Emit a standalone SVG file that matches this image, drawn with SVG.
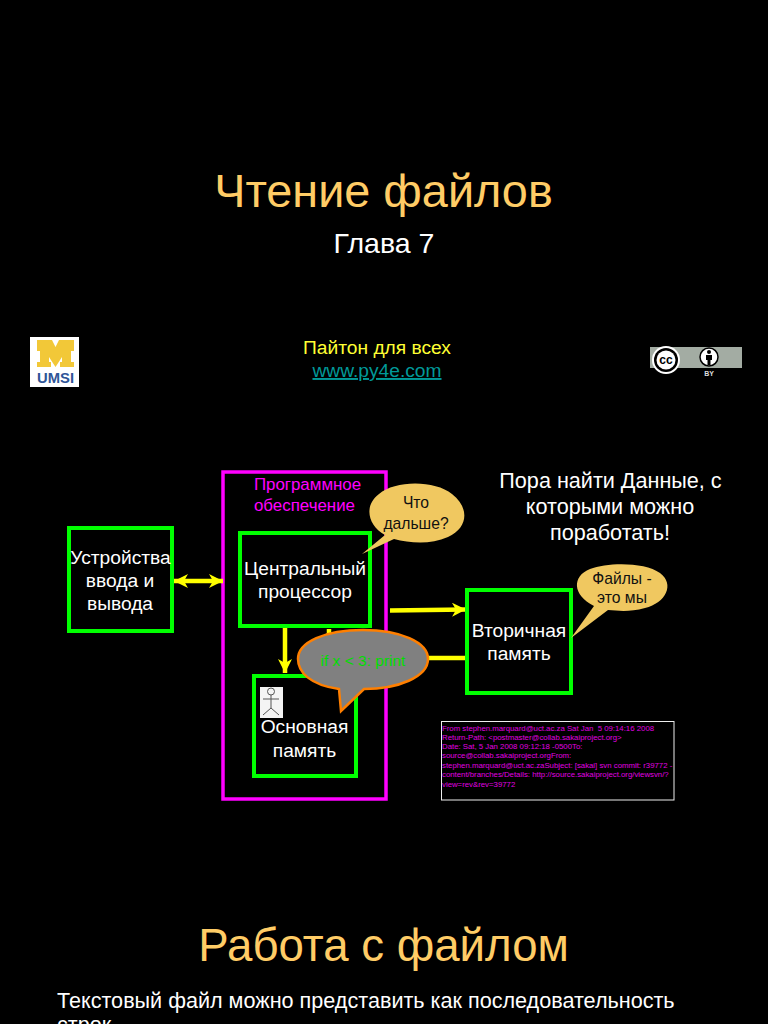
<svg xmlns="http://www.w3.org/2000/svg" width="768" height="1024" viewBox="0 0 768 1024">
<defs>
<marker id="ah" viewBox="0 0 14 14" refX="14" refY="7" markerWidth="14" markerHeight="14" markerUnits="userSpaceOnUse" orient="auto-start-reverse"><path d="M0 0 L14 7 L0 14 L4 7 Z" fill="#ffff00"/></marker>
</defs>
<style>
text{font-family:"Liberation Sans",Arial,sans-serif;text-anchor:middle}
.w{fill:#fff;font-size:19.2px}
.l{fill:#fff;font-size:21.6px}
.box{fill:none;stroke:#00ff00;stroke-width:4}
.mag{fill:#ff00ff;font-size:16.9px}
.bub{fill:#f0c860}
.bt{fill:#111;font-size:15.7px}
.em{fill:#e000e0;font-size:7.8px;text-anchor:start;white-space:pre}
.t{fill:#ffcc66}
.c{stroke:#ffff00;stroke-width:4.5;fill:none}
</style>
<rect width="768" height="1024" fill="#000"/>
<text class="t" x="383.500" y="207" font-size="46.800">Чтение файлов</text>
<text x="384" y="253" fill="#fff" font-size="28.500">Глава 7</text>
<text x="377" y="354" fill="#ffff33" font-size="19.200">Пайтон для всех</text>
<text x="377" y="377" fill="#009999" font-size="19.200" text-decoration="underline">www.py4e.com</text>
<g id="umsi-logo">
<rect x="30" y="337" width="49" height="50" fill="#fff"/>
<path d="M37 340 H52 L55.500 347 L59 340 H74 V351 H71 V362 H74 V367 H60 V362 H62 V357 L55.500 367 L49 357 V362 H51 V367 H37 V362 H40 V351 H37 Z" fill="#f2c838"/>
<text x="55.500" y="382.500" fill="#2f5597" font-size="15" font-weight="bold" textLength="37" lengthAdjust="spacingAndGlyphs">UMSI</text>
</g>
<g id="cc-by-badge">
<rect x="650" y="347" width="92" height="21" fill="#a3aca3"/>
<circle cx="666" cy="360" r="14" fill="#fff"/>
<circle cx="666" cy="360" r="12" fill="#000"/>
<circle cx="666" cy="360" r="9.500" fill="#fff"/>
<text x="666" y="364" fill="#000" font-size="12" font-weight="bold">cc</text>
<circle cx="709" cy="357" r="9" fill="#fff" stroke="#000" stroke-width="1.500"/>
<circle cx="709" cy="352" r="2" fill="#000"/>
<path d="M706 355 H712 V360 H710.500 V365 H707.500 V360 H706 Z" fill="#000"/>
<text x="709" y="376" fill="#ddd" font-size="7" font-weight="bold">BY</text>
</g>
<g id="software">
<rect x="223" y="472" width="163" height="327" fill="none" stroke="#ff00ff" stroke-width="3.500"/>
<text class="mag" x="307.500" y="490">Программное</text>
<text class="mag" x="304.500" y="511">обеспечение</text>
</g>
<g id="connectors">
<line class="c" x1="174" y1="581" x2="223" y2="581" marker-start="url(#ah)" marker-end="url(#ah)"/>
<line class="c" x1="390" y1="610.500" x2="466" y2="609.500" marker-end="url(#ah)"/>
<line class="c" x1="285" y1="627" x2="285" y2="673" marker-end="url(#ah)"/>
<line class="c" x1="329" y1="676" x2="329" y2="629" marker-end="url(#ah)"/>
<line class="c" x1="395" y1="658" x2="467" y2="658"/>
</g>
<g id="io">
<rect class="box" x="69" y="528" width="103" height="103"/>
<text class="w" x="120.500" y="564">Устройства</text>
<text class="w" x="120" y="587">ввода и</text>
<text class="w" x="120" y="610">вывода</text>
</g>
<g id="cpu">
<rect class="box" x="240" y="533" width="130" height="93"/>
<text class="w" x="305" y="575">Центральный</text>
<text class="w" x="305" y="598">процессор</text>
</g>
<g id="memory">
<rect class="box" x="254" y="676" width="102" height="100"/>
<text class="w" x="304.500" y="733">Основная</text>
<text class="w" x="304.500" y="757">память</text>
<g id="actor">
<rect x="260" y="687" width="23" height="31" fill="#f4f4f4"/>
<g fill="none" stroke="#555" stroke-width="1">
<circle cx="271" cy="691.500" r="3.500"/>
<path d="M271 695 V708 M263 699 H279 M271 708 L263 715 M271 708 L279 715"/>
</g>
</g>
</g>
<g id="secondary">
<rect class="box" x="467" y="590" width="104" height="103"/>
<text class="w" x="519" y="637">Вторичная</text>
<text class="w" x="519" y="660">память</text>
</g>
<g id="what-next">
<path class="bub" d="M362 554 L385 535 C367 525 364 505 379 494 C395 480 435 480 452 494 C470 508 468 528 448 537 C430 545 410 543 394 539 Z"/>
<text class="bt" x="416" y="508">Что</text>
<text class="bt" x="416" y="529">дальше?</text>
</g>
<g id="files">
<path class="bub" d="M571 638 L594 606 C572 595 572 576 590 569 C608 562 645 562 660 573 C675 584 666 603 645 608 C630 612 620 611 608 610 Z"/>
<text class="bt" x="622" y="584">Файлы -</text>
<text class="bt" x="622" y="603">это мы</text>
</g>
<g id="code">
<path d="M341 711 L339 689 C310 685 298 672 298 659 C298 642 325 630 363 630 C400 630 428 642 428 659 C428 677 398 689 364 689 Z" fill="#808080" stroke="#ff7f00" stroke-width="2.500"/>
<text x="363" y="666" fill="#00dd00" font-size="15.500">if x &lt; 3: print</text>
</g>
<g id="data">
<rect x="441.500" y="721.500" width="232.500" height="78.500" fill="#000" stroke="#eee" stroke-width="1"/>
<text class="em" x="442" y="731">From stephen.marquard@uct.ac.za Sat Jan  5 09:14:16 2008</text>
<text class="em" x="442" y="740">Return-Path: &lt;postmaster@collab.sakaiproject.org&gt;</text>
<text class="em" x="442" y="749">Date: Sat, 5 Jan 2008 09:12:18 -0500To:</text>
<text class="em" x="442" y="758">source@collab.sakaiproject.orgFrom:</text>
<text class="em" x="442" y="768">stephen.marquard@uct.ac.zaSubject: [sakai] svn commit: r39772 -</text>
<text class="em" x="442" y="777">content/branches/Details: http://source.sakaiproject.org/viewsvn/?</text>
<text class="em" x="442" y="787">view=rev&amp;rev=39772</text>
</g>
<text class="l" x="610.500" y="488">Пора найти Данные, с</text>
<text class="l" x="610" y="514">которыми можно</text>
<text class="l" x="610" y="540">поработать!</text>
<text class="t" x="383.500" y="961" font-size="45.600">Работа с файлом</text>
<text class="l" x="57" y="1008" style="text-anchor:start">Текстовый файл можно представить как последовательность</text>
<text class="l" x="57" y="1032" style="text-anchor:start">строк</text>
</svg>
